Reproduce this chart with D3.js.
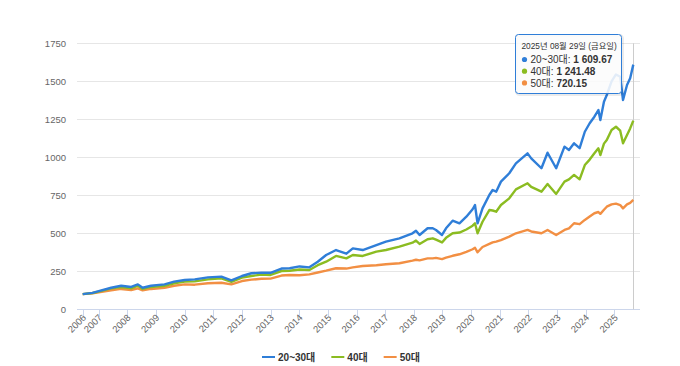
<!DOCTYPE html>
<html>
<head>
<meta charset="utf-8">
<script src="https://cdn.jsdelivr.net/npm/d3@7"></script>
<style>
  body { margin: 0; background: #fff; }
  svg { display: block; font-family: "Liberation Sans", Arial, "Noto Sans CJK KR", sans-serif; }
  .tick-label { fill: #666; font-size: 9.5px; }
</style>
</head>
<body>
<svg width="680" height="366"></svg>
<script>
var svg = d3.select('svg');

let w = 680;
let h = 366;

// series names + colours (highcharts 3 palette)
const seriesNames = ['20~30대', '40대', '50대'];
const seriesColors = ['#2f7ed8', '#8bbc21', '#f28f43'];

// sample dates
const dates = [
    '2006-06-12', '2006-10-15', '2007-01-02', '2007-06-10', '2007-10-15', '2008-02-20',
    '2008-05-15', '2008-07-15', '2008-10-30', '2009-04-20', '2009-08-20', '2010-01-02',
    '2010-05-10', '2010-10-25', '2011-04-15', '2011-08-20', '2012-01-02', '2012-05-01',
    '2012-09-05', '2012-12-31', '2013-05-20', '2013-09-01', '2014-01-05', '2014-05-10',
    '2014-08-25', '2014-12-10', '2015-04-15', '2015-08-25', '2015-11-15', '2016-03-20',
    '2016-09-10', '2017-01-10', '2017-07-01', '2017-12-15', '2018-01-28', '2018-03-15',
    '2018-06-25', '2018-08-30', '2018-10-10', '2018-12-26', '2019-02-15', '2019-05-10',
    '2019-08-05', '2019-11-01', '2020-01-20', '2020-02-19', '2020-03-23', '2020-05-25',
    '2020-08-20', '2020-10-01', '2020-11-15', '2021-01-15', '2021-05-01', '2021-07-25',
    '2021-12-20', '2022-02-05', '2022-06-15', '2022-09-01', '2022-12-20', '2023-04-05',
    '2023-06-01', '2023-08-05', '2023-10-15', '2023-12-20', '2024-02-20', '2024-04-20',
    '2024-06-10', '2024-07-05', '2024-08-20', '2024-09-25', '2024-11-25', '2025-01-20',
    '2025-03-15', '2025-04-20', '2025-06-10', '2025-07-20', '2025-08-29'
];

const age2030 = [
    100, 108, 120, 142, 155, 147, 164, 142, 155, 164, 182, 193,
    197, 210, 215, 190, 219, 237, 241, 240, 268, 270, 282, 276,
    313, 357, 390, 366, 401, 390, 423, 445, 467, 500, 517, 489,
    533, 533, 522, 489, 533, 583, 566, 609, 658, 686, 566, 664,
    752, 785, 774, 840, 895, 960, 1026, 993, 928, 1030, 928, 1070,
    1048, 1092, 1060, 1168, 1224, 1267, 1311, 1245, 1366, 1410, 1500, 1545,
    1530, 1377, 1476, 1520, 1609.67
];

const age40 = [
    100, 107, 116, 138, 147, 138, 155, 134, 147, 155, 171, 182,
    184, 197, 204, 180, 208, 219, 228, 226, 252, 254, 262, 259,
    290, 313, 351, 335, 357, 351, 379, 390, 412, 438, 452, 430,
    461, 467, 458, 440, 470, 500, 505, 525, 550, 566, 500, 576,
    653, 650, 642, 686, 730, 789, 829, 805, 774, 824, 759, 840,
    855, 884, 855, 949, 985, 1026, 1059, 1015, 1090, 1114, 1180, 1201,
    1175, 1092, 1147, 1190, 1241.48
];

const age50 = [
    100, 105, 112, 125, 134, 127, 138, 125, 134, 142, 155, 164,
    162, 171, 175, 164, 186, 195, 201, 202, 222, 226, 224, 230,
    242, 254, 270, 268, 276, 285, 290, 296, 303, 320, 326, 322,
    335, 335, 338, 330, 340, 352, 362, 378, 395, 405, 375, 410,
    430, 440, 445, 455, 478, 500, 522, 512, 500, 522, 489, 522,
    533, 566, 560, 588, 610, 632, 640, 628, 655, 675, 690, 695,
    686, 664, 690, 700, 720.15
];

const yTicks = [0, 250, 500, 750, 1000, 1250, 1500, 1750];
const tooltipTitle = '2025년 08월 29일 (금요일)';

const parse = d3.timeParse('%Y-%m-%d');
const seriesData = [age2030, age40, age50].map(function(vals) {
    return vals.map(function(v, i) { return {date: parse(dates[i]), value: v}; });
});

// plot area
let plotLeft = 77, plotRight = 640, plotTop = 43.3, plotBottom = 309.3;
let firstDate = parse(dates[0]);
let lastDate = parse(dates[dates.length - 1]);

let x = d3.scaleTime().domain([firstDate, lastDate]).range([82.7, 633.3]);
let y = d3.scaleLinear().domain([0, 1750]).range([plotBottom, plotTop]);

// grid lines + y labels
svg.append('g').selectAll('line').data(yTicks.slice(1)).enter().append('line')
    .attr('x1', plotLeft).attr('x2', plotRight)
    .attr('y1', function(d) { return Math.round(y(d)) + 0.5; })
    .attr('y2', function(d) { return Math.round(y(d)) + 0.5; })
    .attr('stroke', '#e6e6e6').attr('stroke-width', 1);

svg.append('g').selectAll('text').data(yTicks).enter().append('text')
    .attr('class', 'tick-label')
    .attr('x', 66)
    .attr('y', function(d) { return y(d); })
    .attr('dy', '0.35em')
    .attr('text-anchor', 'end')
    .text(function(d) { return d; });

// x axis: first tick at the start of the data, then every year
let xTicks = [firstDate].concat(d3.timeYear.range(new Date(2007, 0, 1), new Date(2026, 0, 1)));

svg.append('line')
    .attr('x1', plotLeft).attr('x2', plotRight)
    .attr('y1', Math.round(plotBottom) + 0.5).attr('y2', Math.round(plotBottom) + 0.5)
    .attr('stroke', '#ccd6eb');

let xAxis = svg.append('g');
xAxis.selectAll('line').data(xTicks).enter().append('line')
    .attr('x1', function(d) { return Math.round(x(d)) + 0.5; })
    .attr('x2', function(d) { return Math.round(x(d)) + 0.5; })
    .attr('y1', plotBottom).attr('y2', plotBottom + 8)
    .attr('stroke', '#ccd6eb');

xAxis.selectAll('text').data(xTicks).enter().append('text')
    .attr('class', 'tick-label')
    .attr('text-anchor', 'end')
    .attr('transform', function(d) {
        return 'translate(' + (x(d) + 4) + ',' + (plotBottom + 9) + ') rotate(-45)';
    })
    .text(function(d) { return d.getFullYear(); });

// crosshair at the hovered (last) point
svg.append('line')
    .attr('x1', Math.round(x(lastDate)) + 0.5).attr('x2', Math.round(x(lastDate)) + 0.5)
    .attr('y1', plotTop).attr('y2', plotBottom)
    .attr('stroke', '#cccccc').attr('stroke-width', 1);

// lines
let line = d3.line()
    .x(function(d) { return x(d.date); })
    .y(function(d) { return y(d.value); });

// draw 50 first so 20~30 sits on top
svg.append('g').selectAll('path').data([2, 1, 0]).enter().append('path')
    .attr('d', function(i) { return line(seriesData[i]); })
    .attr('fill', 'none')
    .attr('stroke', function(i) { return seriesColors[i]; })
    .attr('stroke-width', 2.4)
    .attr('stroke-linejoin', 'round');

// legend
let legend = svg.append('g');
let lx = 0;
seriesNames.forEach(function(name, i) {
    let item = legend.append('g').attr('transform', 'translate(' + lx + ',0)');
    item.append('line')
        .attr('x1', 0).attr('x2', 13).attr('y1', 0).attr('y2', 0)
        .attr('stroke', seriesColors[i]).attr('stroke-width', 2);
    let t = item.append('text')
        .attr('x', 16).attr('dy', '0.35em')
        .attr('fill', '#333').attr('font-size', '10px').attr('font-weight', 'bold')
        .text(name);
    lx += 16 + t.node().getComputedTextLength() + 16;
});
lx -= 16;
legend.attr('transform', 'translate(' + (341 - lx / 2) + ',357)');

// tooltip for the last point
let tip = svg.append('g').attr('transform', 'translate(515.5,34.5)');
tip.append('rect')
    .attr('x', 1).attr('y', 1).attr('width', 106).attr('height', 59).attr('rx', 3)
    .attr('fill', 'none').attr('stroke', 'rgba(0,0,0,0.08)').attr('stroke-width', 3);
tip.append('rect')
    .attr('width', 106).attr('height', 59).attr('rx', 3)
    .attr('fill', 'rgba(252,252,252,0.88)')
    .attr('stroke', seriesColors[0]).attr('stroke-width', 1);
tip.append('text')
    .attr('x', 6).attr('y', 14.5)
    .attr('fill', '#333').attr('font-size', '8.3px')
    .text(tooltipTitle);

let fmt = function(v) { return d3.format(',.2f')(v).replace(/,/g, ' '); };
seriesNames.forEach(function(name, i) {
    let row = tip.append('g').attr('transform', 'translate(0,' + (25.5 + i * 11.7) + ')');
    row.append('circle').attr('cx', 9).attr('cy', -0.5).attr('r', 2.6).attr('fill', seriesColors[i]);
    let t = row.append('text').attr('x', 15).attr('dy', '0.33em')
        .attr('fill', '#333').attr('font-size', '10px');
    t.append('tspan').text(name + ': ');
    t.append('tspan').attr('font-weight', 'bold').text(fmt(seriesData[i][seriesData[i].length - 1].value));
});
</script>
</body>
</html>
